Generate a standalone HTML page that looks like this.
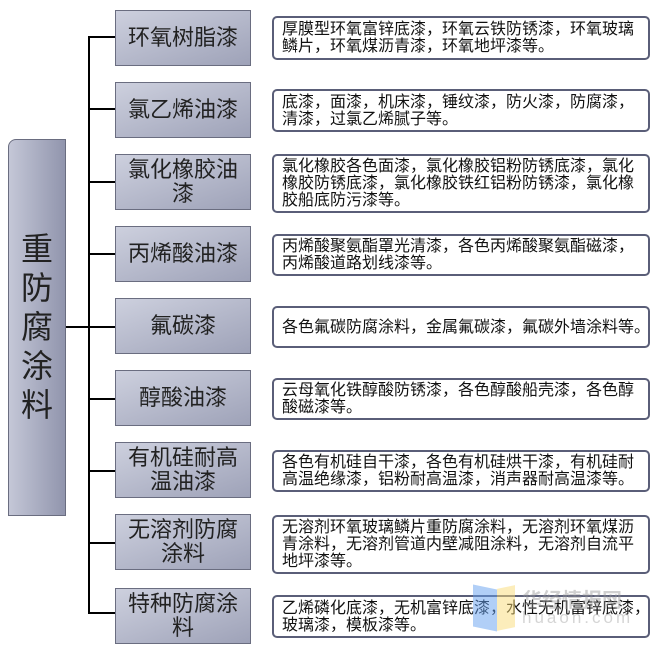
<!DOCTYPE html>
<html><head><meta charset="utf-8"><style>
body{margin:0;width:657px;height:650px;background:#fff;position:relative;overflow:hidden;font-family:"Liberation Sans","Noto Sans CJK SC",sans-serif;}
.l{position:absolute;background:#000;}
.m{position:absolute;left:115px;width:136px;height:56px;background:linear-gradient(160deg,#cdd0de,#9ea2b8);border:1px solid #6a6d80;box-sizing:border-box;display:flex;align-items:center;justify-content:center;text-align:center;font-size:22px;line-height:24px;color:#222;padding:0 9px;}
.r{position:absolute;left:272px;width:378px;border:2px solid #5a5e78;border-radius:5px;box-sizing:border-box;font-size:16px;line-height:17px;color:#111;padding:1px 8px;display:flex;align-items:center;white-space:nowrap;}
</style></head><body>
<div style="position:absolute;left:8px;top:139px;width:58px;height:377px;background:linear-gradient(90deg,#c4c7d7,#9195ad);border:1px solid #6a6d80;box-sizing:border-box;border-radius:8px 0 0 0;display:flex;align-items:center;justify-content:center;font-size:32px;line-height:39px;color:#222;text-align:center;">重<br>防<br>腐<br>涂<br>料</div>
<div class="l" style="left:66px;top:326px;width:22px;height:2px"></div>
<div class="l" style="left:88px;top:36px;width:2px;height:578px"></div>
<div class="l" style="left:88px;top:36px;width:27px;height:2px"></div>
<div class="l" style="left:88px;top:108px;width:27px;height:2px"></div>
<div class="l" style="left:88px;top:181px;width:27px;height:2px"></div>
<div class="l" style="left:88px;top:253px;width:27px;height:2px"></div>
<div class="l" style="left:88px;top:326px;width:27px;height:2px"></div>
<div class="l" style="left:88px;top:398px;width:27px;height:2px"></div>
<div class="l" style="left:88px;top:470px;width:27px;height:2px"></div>
<div class="l" style="left:88px;top:542px;width:27px;height:2px"></div>
<div class="l" style="left:88px;top:612px;width:27px;height:2px"></div>

<div class="m" style="top:10px">环氧树脂漆</div>
<div class="m" style="top:82px">氯乙烯油漆</div>
<div class="m" style="top:154px">氯化橡胶油漆</div>
<div class="m" style="top:226px">丙烯酸油漆</div>
<div class="m" style="top:298px">氟碳漆</div>
<div class="m" style="top:370px">醇酸油漆</div>
<div class="m" style="top:442px">有机硅耐高温油漆</div>
<div class="m" style="top:514px">无溶剂防腐涂料</div>
<div class="m" style="top:588px">特种防腐涂料</div>

<div class="r" style="top:16px;height:44px"><div>厚膜型环氧富锌底漆，环氧云铁防锈漆，环氧玻璃<br>鳞片，环氧煤沥青漆，环氧地坪漆等。</div></div>
<div class="r" style="top:89px;height:43px"><div>底漆，面漆，机床漆，锤纹漆，防火漆，防腐漆，<br>清漆，过氯乙烯腻子等。</div></div>
<div class="r" style="top:154px;height:59px"><div>氯化橡胶各色面漆，氯化橡胶铝粉防锈底漆，氯化<br>橡胶防锈底漆，氯化橡胶铁红铝粉防锈漆，氯化橡<br>胶船底防污漆等。</div></div>
<div class="r" style="top:234px;height:42px"><div>丙烯酸聚氨酯罩光清漆，各色丙烯酸聚氨酯磁漆，<br>丙烯酸道路划线漆等。</div></div>
<div class="r" style="top:306px;height:42px"><div>各色氟碳防腐涂料，金属氟碳漆，氟碳外墙涂料等。</div></div>
<div class="r" style="top:378px;height:42px"><div>云母氧化铁醇酸防锈漆，各色醇酸船壳漆，各色醇<br>酸磁漆等。</div></div>
<div class="r" style="top:450px;height:42px"><div>各色有机硅自干漆，各色有机硅烘干漆，有机硅耐<br>高温绝缘漆，铝粉耐高温漆，消声器耐高温漆等。</div></div>
<div class="r" style="top:515px;height:59px"><div>无溶剂环氧玻璃鳞片重防腐涂料，无溶剂环氧煤沥<br>青涂料，无溶剂管道内壁减阻涂料，无溶剂自流平<br>地坪漆等。</div></div>
<div class="r" style="top:595px;height:43px"><div>乙烯磷化底漆，无机富锌底漆，水性无机富锌底漆，<br>玻璃漆，模板漆等。</div></div>

<div style="position:absolute;left:473px;top:587px;width:24px;height:42px;background:rgba(100,160,240,0.5);transform:skewY(12deg)"></div>
<div style="position:absolute;left:497px;top:587px;width:18px;height:42px;background:rgba(250,220,120,0.5);transform:skewY(-12deg)"></div>
<div style="position:absolute;left:522px;top:584px;font-size:20px;font-weight:bold;color:rgba(150,150,150,0.45)">华经情报网</div>
<div style="position:absolute;left:522px;top:608px;font-size:17px;letter-spacing:3px;color:rgba(150,150,150,0.4)">huaon.com</div>
</body></html>
